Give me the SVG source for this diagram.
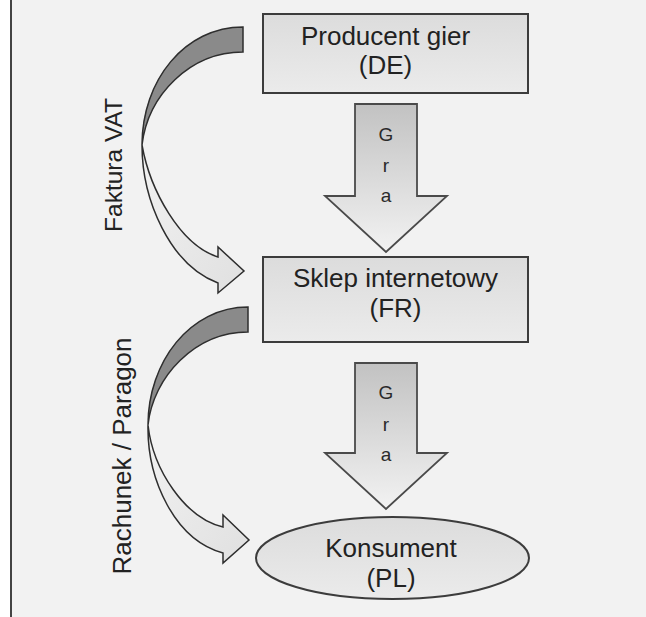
<svg xmlns="http://www.w3.org/2000/svg" width="646" height="617" viewBox="0 0 646 617">
<defs>
<linearGradient id="boxg" x1="0" y1="0" x2="0" y2="1"><stop offset="0" stop-color="#dcdcdc"/><stop offset="1" stop-color="#ebebeb"/></linearGradient>
<linearGradient id="blockg" x1="0" y1="0" x2="0" y2="1"><stop offset="0" stop-color="#c2c2c2"/><stop offset="1" stop-color="#f2f2f2"/></linearGradient>
<linearGradient id="lightg" x1="0" y1="0" x2="1" y2="1"><stop offset="0" stop-color="#f2f2f2"/><stop offset="1" stop-color="#e0e0e0"/></linearGradient>
<style>
.node{fill:url(#boxg);stroke:#3c3c3c;stroke-width:2}
.t{font-family:"Liberation Sans",Arial,sans-serif;font-size:26px;fill:#222;text-anchor:middle}
.g{font-family:"Liberation Sans",Arial,sans-serif;font-size:19px;fill:#2a2a2a;text-anchor:middle}
.block{fill:url(#blockg);stroke:#4a4a4a;stroke-width:1.8}
.dark{fill:#8a8a8a;stroke:#2e2e2e;stroke-width:1.5}
.light{fill:url(#lightg);stroke:#2e2e2e;stroke-width:1.5}
</style>
</defs>
<rect x="0" y="0" width="646" height="617" fill="#f2f2f2"/>
<rect x="0" y="0" width="10" height="617" fill="#ffffff"/>
<line x1="11" y1="0" x2="11" y2="617" stroke="#444" stroke-width="2"/>
<g id="connectors">
<g id="gra1">
<path class="block" d="M355,104 H417 V196 H447 L386,252 L325,196 H355 Z"/>
<text class="g" x="386" y="141">G</text>
<text class="g" x="386" y="172">r</text>
<text class="g" x="386" y="202">a</text>
</g>
<g id="gra2">
<path class="block" d="M355,363 H417 V453 H447 L386,509 L325,453 H355 Z"/>
<text class="g" x="386" y="399">G</text>
<text class="g" x="386" y="431">r</text>
<text class="g" x="386" y="461">a</text>
</g>
<g id="faktura">
<path class="dark" d="M243,27 C185,27 142,80 142,145 C148,95 190,52 243,52 Z"/>
<path class="light" d="M142,145 C150,190 180,245 218,257 L218,247 L244,271 L218,293 L218,283 C170,265 142,200 142,145 Z"/>
<text class="t" transform="translate(122,165) rotate(-90)" x="0" y="0" style="font-size:24.5px">Faktura VAT</text>
</g>
<g id="rachunek">
<path class="dark" d="M248,307 C190,307 148,362 148,425 C153,377 195,332 248,332 Z"/>
<path class="light" d="M148,425 C153,470 185,518 223,527 L223,515 L249,540 L223,563 L223,553 C175,540 147,480 148,425 Z"/>
<text class="t" transform="translate(131,456) rotate(-90)" x="0" y="0">Rachunek / Paragon</text>
</g>
</g>
<g id="producent">
<rect class="node" x="263" y="14" width="265" height="79"/>
<text class="t" x="385.5" y="45">Producent gier</text>
<text class="t" x="385.5" y="74">(DE)</text>
</g>
<g id="sklep">
<rect class="node" x="263" y="257" width="265" height="85"/>
<text class="t" x="395.5" y="287">Sklep internetowy</text>
<text class="t" x="395.5" y="317">(FR)</text>
</g>
<g id="konsument">
<ellipse class="node" cx="392.5" cy="558" rx="136.5" ry="41"/>
<text class="t" x="391" y="557">Konsument</text>
<text class="t" x="391" y="587">(PL)</text>
</g>
</svg>
